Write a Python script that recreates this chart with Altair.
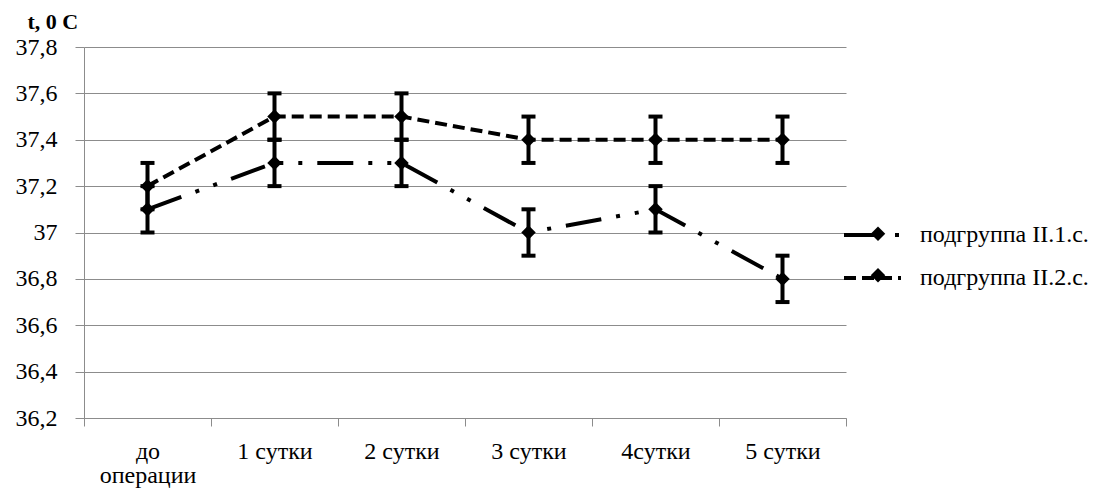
import altair as alt
import pandas as pd

categories = ["до операции", "1 сутки", "2 сутки", "3 сутки", "4сутки", "5 сутки"]
series_names = ["подгруппа II.1.с.", "подгруппа II.2.с."]
marker_names = ["маркер 1", "маркер 2"]
s1_values = [37.1, 37.3, 37.3, 37.0, 37.1, 36.8]
s2_values = [37.2, 37.5, 37.5, 37.4, 37.4, 37.4]
s1_err = [0.1, 0.1, 0.1, 0.1, 0.1, 0.1]
s2_err = [0.1, 0.1, 0.1, 0.1, 0.1, 0.1]
y_ticks = [36.2, 36.4, 36.6, 36.8, 37.0, 37.2, 37.4, 37.6, 37.8]

rows = []
for name, mname, vals, errs in [(series_names[0], marker_names[0], s1_values, s1_err),
                                (series_names[1], marker_names[1], s2_values, s2_err)]:
    for c, v, e in zip(categories, vals, errs):
        rows.append({"cat": c, "val": v, "lo": v - e, "hi": v + e, "series": name, "series_m": mname})
df = pd.DataFrame(rows)

FONT = "Liberation Serif"

x_enc = alt.X(
    "cat:N", sort=categories,
    scale=alt.Scale(type="band", paddingInner=0, paddingOuter=0),
    axis=alt.Axis(
        title=None, grid=False, tickBand="extent", tickSize=8, labelAngle=0,
        labelPadding=13, labelLineHeight=24, labelBaseline="top",
        labelFont=FONT, labelFontSize=24,
        labelExpr="datum.label == 'до операции' ? ['до', 'операции'] : datum.label",
    ),
)
y_scale = alt.Scale(domain=[36.2, 37.8], nice=False, zero=False)

base = alt.Chart(df)

line = base.mark_line(color="black", strokeWidth=4).encode(
    x=x_enc,
    y=alt.Y(
        "val:Q", scale=y_scale,
        axis=alt.Axis(
            values=y_ticks, title="t, 0 C", titleAngle=0, titleAlign="left",
            titleBaseline="alphabetic", titleX=-57, titleY=-19, titleFontWeight="bold",
            titleFont=FONT, titleFontSize=22, tickSize=9, labelPadding=18,
            labelFont=FONT, labelFontSize=24,
            labelExpr="replace(replace(format(datum.value, '.1f'), '.', ','), ',0', '')",
        ),
    ),
    strokeDash=alt.StrokeDash(
        "series:N",
        scale=alt.Scale(domain=series_names, range=[[36, 15, 4, 15, 4, 15], [12, 6]]),
        legend=alt.Legend(
            title=None, orient="none", legendX=758, legendY=157.5, padding=0,
            symbolType="stroke", symbolSize=3249, symbolStrokeWidth=4,
            symbolStrokeColor="black", labelOffset=17, rowPadding=-16,
            labelFont=FONT, labelFontSize=24, labelColor="black", labelLimit=400,
        ),
    ),
)

err_rule = base.mark_rule(color="black", strokeWidth=4).encode(
    x=alt.X("cat:N", sort=categories), y="lo:Q", y2="hi:Q"
)
cap_lo = base.mark_tick(color="black", size=14, thickness=4, opacity=1).encode(
    x=alt.X("cat:N", sort=categories), y="lo:Q"
)
cap_hi = base.mark_tick(color="black", size=14, thickness=4, opacity=1).encode(
    x=alt.X("cat:N", sort=categories), y="hi:Q"
)

points = base.mark_point(filled=True, color="black", size=210, opacity=1).encode(
    x=alt.X("cat:N", sort=categories),
    y="val:Q",
    shape=alt.Shape(
        "series_m:N",
        scale=alt.Scale(domain=marker_names, range=["diamond", "diamond"]),
        legend=alt.Legend(
            title=None, orient="none", legendX=786, legendY=178.75, padding=0,
            symbolSize=210, symbolFillColor="black", symbolStrokeColor="black",
            labelOpacity=0, labelOffset=0, rowPadding=19.5,
            labelFontSize=1, labelExpr="''",
        ),
    ),
)

chart = alt.layer(line, err_rule, cap_lo, cap_hi, points).properties(
    width=762, height=371,
    autosize=alt.AutoSizeParams(type="none"),
    padding={"left": 76, "top": 39, "right": 262, "bottom": 76},
).configure_view(stroke=None).configure_axis(
    labelColor="black", titleColor="black", gridColor="#8c8c8c", gridWidth=1,
    domainColor="#8c8c8c", tickColor="#8c8c8c", domainWidth=1, tickWidth=1,
).configure_axisY(
    domain=True, grid=True,
)

chart.save("out.html", embed_options={"renderer": "svg", "actions": False})
